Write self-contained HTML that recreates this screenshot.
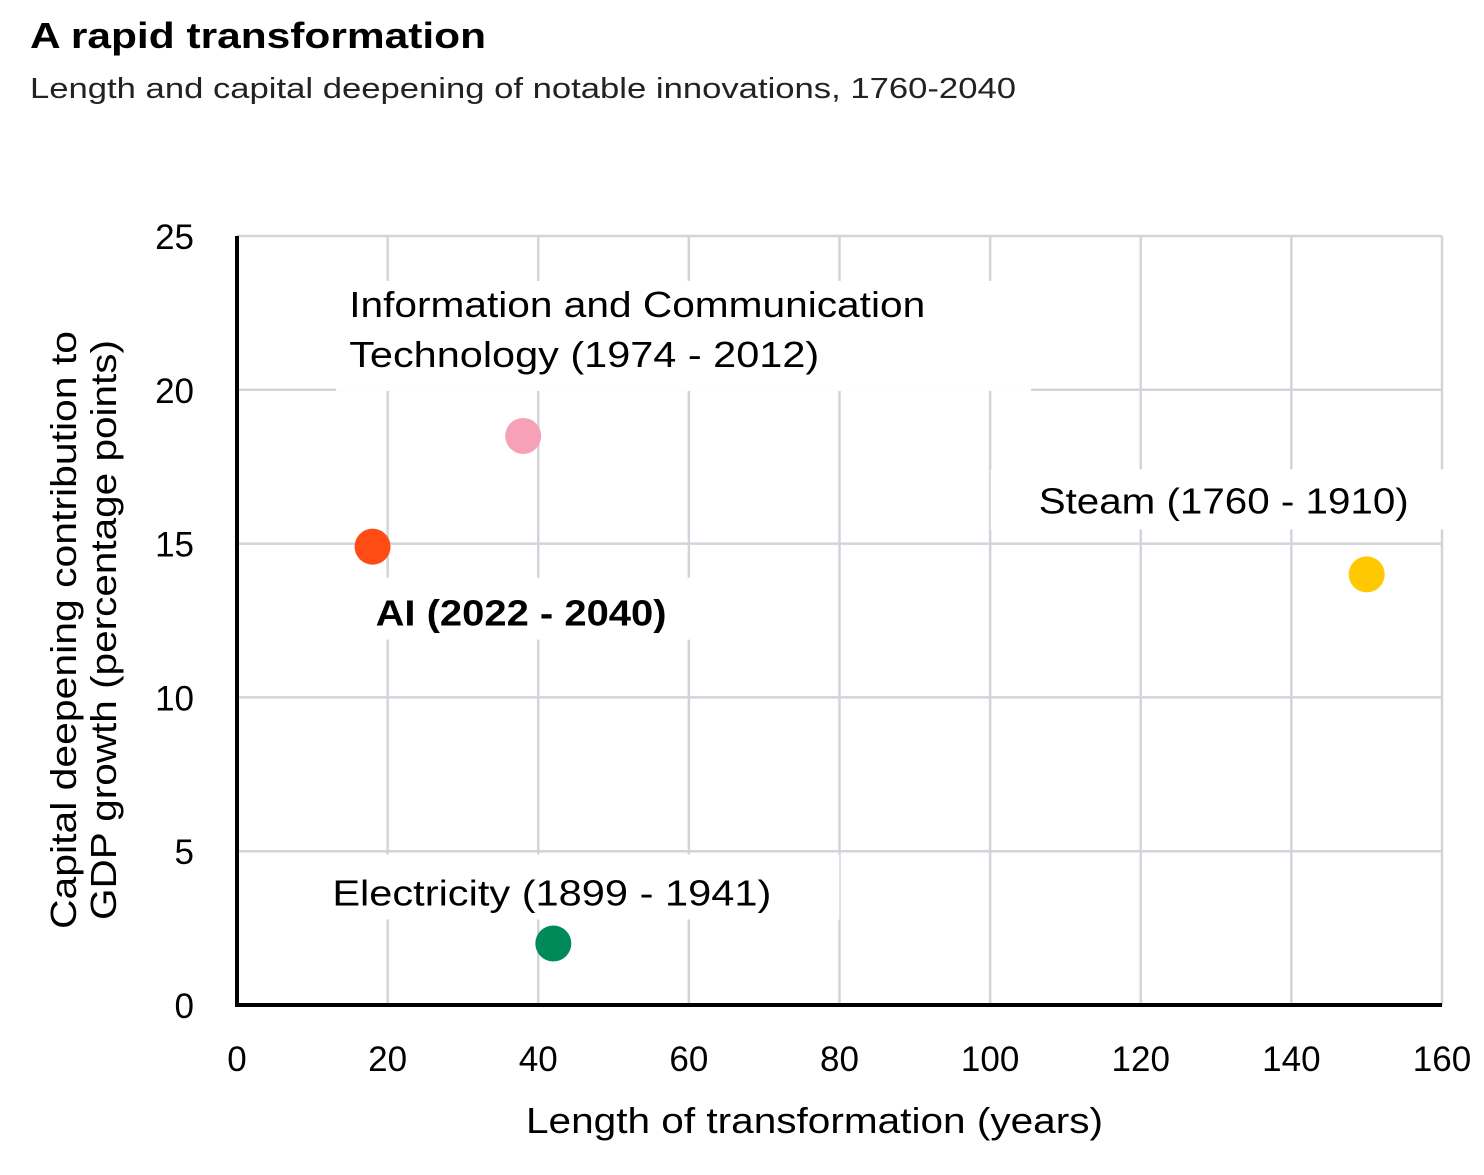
<!DOCTYPE html>
<html><head><meta charset="utf-8"><style>
body{margin:0;background:#fff;width:1484px;height:1170px;overflow:hidden;font-family:"Liberation Sans",sans-serif}
</style></head><body>
<svg width="1484" height="1170" xmlns="http://www.w3.org/2000/svg">
<text x="30" y="48" font-size="36" font-weight="bold" textLength="456" lengthAdjust="spacingAndGlyphs">A rapid transformation</text>
<text x="30" y="98" font-size="29" fill="#222" textLength="986" lengthAdjust="spacingAndGlyphs">Length and capital deepening of notable innovations, 1760-2040</text>
<g id="grid"></g><g id="labels"></g><g id="marks"></g>
<text x="526" y="1133" font-size="36" textLength="577" lengthAdjust="spacingAndGlyphs">Length of transformation (years)</text>
<text transform="translate(76,630) rotate(-90)" font-size="36" text-anchor="middle"><tspan x="0" dy="0" textLength="598" lengthAdjust="spacingAndGlyphs">Capital deepening contribution to</tspan><tspan x="0" dy="40" textLength="580" lengthAdjust="spacingAndGlyphs">GDP growth (percentage points)</tspan></text>
</svg>
<script>
const xTicks=[0,20,40,60,80,100,120,140,160];
const yTicks=[0,5,10,15,20,25];
const names=["AI (2022 - 2040)","Information and Communication Technology (1974 - 2012)","Steam (1760 - 1910)","Electricity (1899 - 1941)"];
const lengths=[18,38,150,42];
const contributions=[14.9,18.5,14.0,2.0];
const colors=["#ff4b14","#f7a1b8","#ffc800","#008a5a"];
const NS="http://www.w3.org/2000/svg";
const X=v=>237+v*(1442-237)/160, Y=v=>1005-v*(1005-236)/25;
function mk(t,a,p){const e=document.createElementNS(NS,t);for(const k in a)e.setAttribute(k,a[k]);p.appendChild(e);return e;}
const g=document.getElementById('grid'),lb=document.getElementById('labels'),m=document.getElementById('marks');
xTicks.forEach(v=>{if(v>0){const l=mk('line',{x1:X(v),x2:X(v),y1:236,y2:1005,stroke:'#d3d3dc','stroke-width':2.5},g);
}
const t=mk('text',{x:X(v),y:1071,'font-size':35,'text-anchor':'middle'},g);t.textContent=v;
});
yTicks.forEach(v=>{if(v>0){const l=mk('line',{x1:237,x2:1442,y1:Y(v),y2:Y(v),stroke:'#d3d3dc','stroke-width':2.5},g);
}
const t=mk('text',{x:194,y:Y(v)+13,'font-size':35,'text-anchor':'end'},g);t.textContent=v;
});
const ax=mk('path',{d:'M237 236V1005H1442',fill:'none',stroke:'#000','stroke-width':4},g);

const boxes=[{dx:-12,dy:31,w:330,h:62,tx:15,ty:48,lines:["AI (2022 - 2040)"],wl:[291],bold:true},
{dx:-187,dy:-155,w:695,h:110,tx:13,ty:36,lines:["Information and Communication","Technology (1974 - 2012)"],wl:[576,470]},
{dx:-376,dy:-105,w:455,h:60,tx:48,ty:44,lines:["Steam (1760 - 1910)"],wl:[370]},
{dx:-314,dy:-89,w:600,h:65,tx:93,ty:51,lines:["Electricity (1899 - 1941)"],wl:[439]}];
names.forEach((n,i)=>{const b=boxes[i],px=X(lengths[i]),py=Y(contributions[i]);
const r=mk('rect',{x:px+b.dx,y:py+b.dy,width:b.w,height:b.h,fill:'#fff'},lb);

const t=mk('text',{x:px+b.dx+b.tx,y:py+b.dy+b.ty,'font-size':36,'font-weight':b.bold?'bold':'normal'},lb);

b.lines.forEach((s,j)=>{const ts=mk('tspan',{x:px+b.dx+b.tx,dy:j?50:0,textLength:b.wl[j],lengthAdjust:'spacingAndGlyphs'},t);ts.textContent=s;});
const c=mk('circle',{cx:px,cy:py,r:18,fill:colors[i]},m);
});
</script>
</body></html>
